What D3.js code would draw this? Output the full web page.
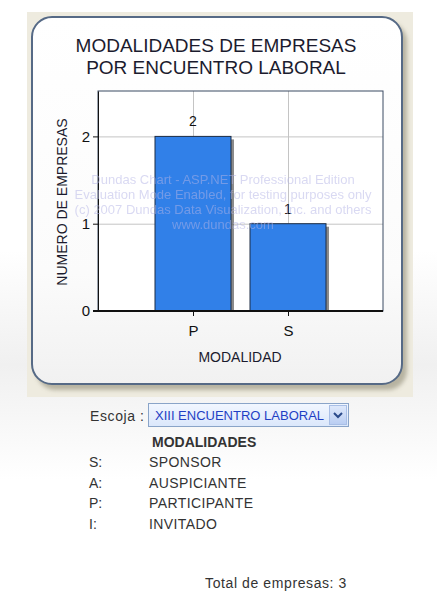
<!DOCTYPE html>
<meta charset="utf-8">
<script src="https://d3js.org/d3.v7.min.js"></script>
<style>
  body { margin: 0; background: #fff; }
  text { font-family: Arial, "Liberation Sans", sans-serif; }
</style>
<div id="mychart"></div>
<script>

// data
var categories = ["P", "S"];
var values = [2, 1];
var yTicks = [0, 1, 2];
var titleLines = ["MODALIDADES DE EMPRESAS", "POR ENCUENTRO LABORAL"];
var watermark = ["Dundas Chart - ASP.NET Professional Edition",
                 "Evaluation Mode Enabled, for testing purposes only",
                 "(c) 2007 Dundas Data Visualization, Inc. and others",
                 "www.dundas.com"];
var legendCodes = ["S:", "A:", "P:", "I:"];
var legendNames = ["SPONSOR", "AUSPICIANTE", "PARTICIPANTE", "INVITADO"];
var selectedEvent = "XIII ENCUENTRO LABORAL";
var totalEmpresas = 3;

var W = 437, H = 595;

var svg = d3.select("#mychart")
  .append("svg")
  .attr("width", W)
  .attr("height", H);

var defs = svg.append("defs");

var panelGrad = defs.append("linearGradient").attr("id", "panelGrad")
  .attr("x1", 0).attr("y1", 0).attr("x2", 0).attr("y2", 1);
panelGrad.append("stop").attr("offset", "0%").attr("stop-color", "#ffffff");
panelGrad.append("stop").attr("offset", "70%").attr("stop-color", "#fbfbfb");
panelGrad.append("stop").attr("offset", "100%").attr("stop-color", "#f1f1f1");

var pageGrad = defs.append("linearGradient").attr("id", "pageGrad")
  .attr("x1", 0).attr("y1", 0).attr("x2", 0).attr("y2", 1);
pageGrad.append("stop").attr("offset", "0%").attr("stop-color", "#ffffff");
pageGrad.append("stop").attr("offset", "50%").attr("stop-color", "#f0f0f0");
pageGrad.append("stop").attr("offset", "100%").attr("stop-color", "#ffffff");

var selGrad = defs.append("linearGradient").attr("id", "selGrad")
  .attr("x1", 0).attr("y1", 0).attr("x2", 0).attr("y2", 1);
selGrad.append("stop").attr("offset", "0%").attr("stop-color", "#f2f7ff");
selGrad.append("stop").attr("offset", "100%").attr("stop-color", "#dbe7fb");

var btnGrad = defs.append("linearGradient").attr("id", "btnGrad")
  .attr("x1", 0).attr("y1", 0).attr("x2", 0).attr("y2", 1);
btnGrad.append("stop").attr("offset", "0%").attr("stop-color", "#dfe9fb");
btnGrad.append("stop").attr("offset", "100%").attr("stop-color", "#b9cdf2");

defs.append("filter").attr("id", "blur")
  .append("feGaussianBlur").attr("stdDeviation", 2);

// page background + beige frame behind the chart panel
svg.append("rect").attr("x", 0).attr("y", 250).attr("width", W).attr("height", 230)
  .attr("fill", "url(#pageGrad)");
svg.append("rect").attr("x", 27).attr("y", 12).attr("width", 386).attr("height", 385)
  .attr("fill", "#eeebdf");

// rounded panel with shadow
svg.append("rect").attr("x", 36).attr("y", 22).attr("width", 371).attr("height", 368)
  .attr("rx", 20).attr("fill", "#a9a592").attr("opacity", 0.8).attr("filter", "url(#blur)");
svg.append("rect").attr("x", 32).attr("y", 17).attr("width", 370).attr("height", 367)
  .attr("rx", 20).attr("fill", "url(#panelGrad)")
  .attr("stroke", "#566a86").attr("stroke-width", 2);

// title
svg.append("g").selectAll("text")
  .data(titleLines)
  .join("text")
    .attr("x", 216)
    .attr("y", (d, i) => 52 + i * 22)
    .attr("text-anchor", "middle")
    .style("font-size", "19px")
    .style("fill", "#1b1b2e")
    .text(d => d);

// plot area
var plot = {left: 98, right: 383, top: 91, bottom: 311};

var x = d3.scaleLinear()
  .domain([0, categories.length + 1])
  .range([plot.left, plot.right]);

var y = d3.scaleLinear()
  .domain([0, 2.52])
  .range([plot.bottom, plot.top]);

svg.append("rect")
  .attr("x", plot.left).attr("y", plot.top)
  .attr("width", plot.right - plot.left).attr("height", plot.bottom - plot.top)
  .attr("fill", "#fff");

// grid
svg.append("g")
  .attr("transform", `translate(0, ${plot.bottom})`)
  .call(d3.axisBottom(x).tickValues(d3.range(1, categories.length + 1))
    .tickFormat("").tickSizeInner(-(plot.bottom - plot.top)).tickSizeOuter(0))
  .call(g => g.select(".domain").remove())
  .selectAll("line").attr("stroke", "#c4c4c4");

svg.append("g")
  .attr("transform", `translate(${plot.left}, 0)`)
  .call(d3.axisLeft(y).tickValues(yTicks.slice(1))
    .tickFormat("").tickSizeInner(-(plot.right - plot.left)).tickSizeOuter(0))
  .call(g => g.select(".domain").remove())
  .selectAll("line").attr("stroke", "#c4c4c4");

// bars (shadow + bar)
var bw = x(0.8) - x(0);

svg.append("g").selectAll("rect")
  .data(values)
  .join("rect")
    .attr("x", (d, i) => x(i + 1) - bw / 2 + 3)
    .attr("y", d => y(d) + 3)
    .attr("width", bw)
    .attr("height", d => y(0) - y(d) - 3)
    .attr("fill", "#5a5a5a")
    .attr("opacity", 0.7);

svg.append("g").selectAll("rect")
  .data(values)
  .join("rect")
    .attr("x", (d, i) => x(i + 1) - bw / 2)
    .attr("y", d => y(d))
    .attr("width", bw)
    .attr("height", d => y(0) - y(d))
    .attr("fill", "#3180e8")
    .attr("stroke", "#1c2c44")
    .attr("stroke-width", 1);

// value labels
svg.append("g").selectAll("text")
  .data(values)
  .join("text")
    .attr("x", (d, i) => x(i + 1))
    .attr("y", d => y(d) - 10)
    .attr("text-anchor", "middle")
    .style("font-size", "14px")
    .style("fill", "#111")
    .text(d => d);

// plot frame
svg.append("rect")
  .attr("x", plot.left).attr("y", plot.top)
  .attr("width", plot.right - plot.left).attr("height", plot.bottom - plot.top)
  .attr("fill", "none").attr("stroke", "#3b4a63").attr("stroke-width", 1);

// axes
var xAxis = svg.append("g")
  .attr("transform", `translate(0, ${plot.bottom})`)
  .call(d3.axisBottom(x).tickValues(d3.range(1, categories.length + 1))
    .tickFormat(d => categories[d - 1]).tickSizeInner(5).tickSizeOuter(0).tickPadding(9));
xAxis.select(".domain").attr("stroke", "#111").attr("stroke-width", 2)
  .attr("d", `M${plot.left - 5},0H${plot.right}`);
xAxis.selectAll("line").attr("stroke", "#111");
xAxis.selectAll("text").style("font-size", "15px").style("fill", "#111")
  .style("font-family", "Arial, 'Liberation Sans', sans-serif");

var yAxis = svg.append("g")
  .attr("transform", `translate(${plot.left}, 0)`)
  .call(d3.axisLeft(y).tickValues(yTicks).tickFormat(d3.format("d"))
    .tickSizeInner(5).tickSizeOuter(0).tickPadding(3));
yAxis.select(".domain").attr("stroke", "#111").attr("stroke-width", 1);
yAxis.selectAll("line").attr("stroke", "#111");
yAxis.selectAll("text").style("font-size", "15px").style("fill", "#111")
  .style("font-family", "Arial, 'Liberation Sans', sans-serif");

// axis titles
svg.append("text")
  .attr("x", 240).attr("y", 362)
  .attr("text-anchor", "middle")
  .style("font-size", "14px").style("fill", "#1b1b2e")
  .text("MODALIDAD");

svg.append("text")
  .attr("transform", "translate(67, 202) rotate(-90)")
  .attr("text-anchor", "middle")
  .style("font-size", "14px").style("fill", "#1b1b2e")
  .text("NUMERO DE EMPRESAS");

// evaluation watermark
svg.append("g").selectAll("text")
  .data(watermark)
  .join("text")
    .attr("x", 223)
    .attr("y", (d, i) => 184 + i * 15)
    .attr("text-anchor", "middle")
    .style("font-size", "13px")
    .style("fill", "#b4b4e6")
    .style("opacity", 0.5)
    .text(d => d);

// form below the chart
svg.append("text")
  .attr("x", 90).attr("y", 421)
  .style("font-size", "14px").style("letter-spacing", "0.6px").style("fill", "#333")
  .text("Escoja :");

svg.append("rect")
  .attr("x", 148.5).attr("y", 403.5).attr("width", 200).attr("height", 23)
  .attr("fill", "url(#selGrad)").attr("stroke", "#8aa4c8");
svg.append("text")
  .attr("x", 155).attr("y", 420)
  .style("font-size", "13px").style("fill", "#1f3fc4")
  .text(selectedEvent);
svg.append("rect")
  .attr("x", 329.5).attr("y", 405.5).attr("width", 17).attr("height", 19)
  .attr("fill", "url(#btnGrad)").attr("stroke", "#a9bfe6");
svg.append("path")
  .attr("d", "M334,413 L338,417 L342,413")
  .attr("fill", "none").attr("stroke", "#2a4a8a").attr("stroke-width", 2);

svg.append("text")
  .attr("x", 152).attr("y", 447)
  .style("font-size", "14px").style("font-weight", "bold").style("fill", "#333")
  .text("MODALIDADES");

var legend = svg.append("g").selectAll("g")
  .data(legendCodes)
  .join("g")
    .attr("transform", (d, i) => `translate(0, ${467 + i * 20.5})`);
legend.append("text")
  .attr("x", 89)
  .style("font-size", "14px").style("fill", "#333")
  .text(d => d);
legend.append("text")
  .attr("x", 149)
  .style("font-size", "14px").style("letter-spacing", "0.4px").style("fill", "#333")
  .text((d, i) => legendNames[i]);

svg.append("text")
  .attr("x", 347).attr("y", 588)
  .attr("text-anchor", "end")
  .style("font-size", "14px").style("letter-spacing", "0.6px").style("fill", "#333")
  .text("Total de empresas: " + totalEmpresas);

</script>
